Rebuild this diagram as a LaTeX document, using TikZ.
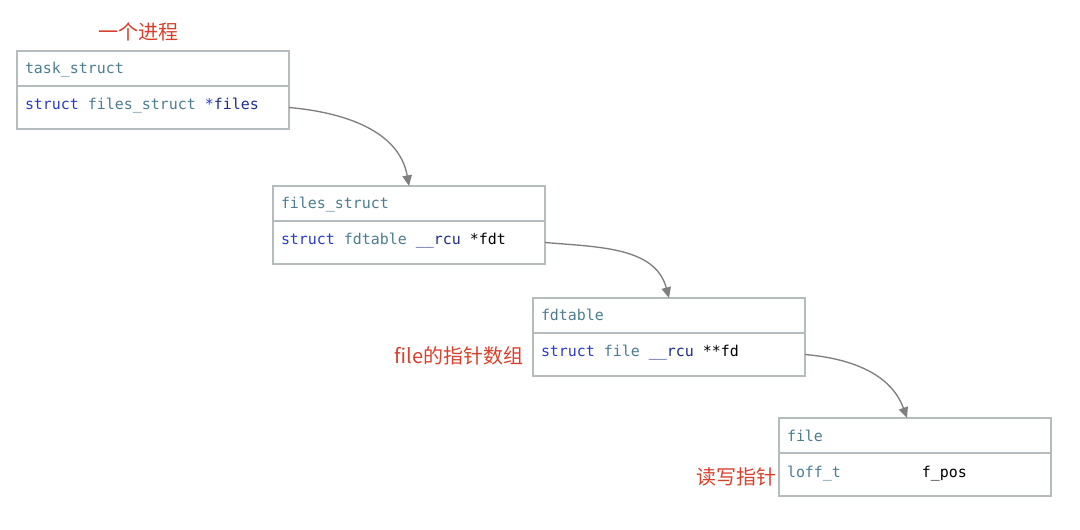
\documentclass[tikz,border=0pt]{standalone}
\usepackage{fontspec}
\setmonofont{DejaVu Sans Mono}
\newfontfamily\cjk{Noto Sans CJK SC}
\usetikzlibrary{positioning,arrows.meta}

\definecolor{boxgray}{HTML}{B5BCBE}
\definecolor{arrowgray}{HTML}{7F7F7F}
\definecolor{kwblue}{HTML}{2A3BC9}
\definecolor{typeteal}{HTML}{4C7D8E}
\definecolor{fieldnavy}{HTML}{1F2D86}
\definecolor{notered}{HTML}{D8402B}

\newcommand{\kw}[1]{\textcolor{kwblue}{#1}}
\newcommand{\ty}[1]{\textcolor{typeteal}{#1}}
\newcommand{\fld}[1]{\textcolor{fieldnavy}{#1}}
% one monospaced blank
\newcommand{\blank}{\hphantom{x}}

\tikzset{
	structhead/.style={draw=boxgray, line width=1.5pt, anchor=north west, outer sep=0pt,
		inner xsep=6pt, inner ysep=0pt, text width=192pt, align=left,
		text height=17.25pt, text depth=9pt, text=typeteal,
		font=\ttfamily\fontsize{11.2}{13}\selectfont},
	structbody/.style={structhead, text height=18pt, text depth=14.25pt, text=black},
	link/.style={draw=arrowgray, line width=1pt, -{Triangle[length=8pt,width=7pt]}},
	note/.style={text=notered, font=\cjk\fontsize{15}{18}\selectfont}
}

\begin{document}
\begin{tikzpicture}[x=0.75pt, y=-0.75pt]
	\useasboundingbox (0,0) rectangle (1080,530);
	% process
	\node[note] (procnote) at (138,32) {一个进程};
	\node[structhead] (taskhead) at (17,51) {task\_struct};
	\node[structbody, below=0pt of taskhead] (taskbody) {\kw{struct}\blank\ty{files\_struct}\blank\fld{\kw{*}files}};
	% files
	\node[structhead] (fileshead) at (273,186) {files\_struct};
	\node[structbody, below=0pt of fileshead] (filesbody) {\kw{struct}\blank\ty{fdtable}\blank\fld{\_\_rcu}\blank*fdt};
	% fd table
	\node[structhead] (fdthead) at (533,298) {fdtable};
	\node[structbody, below=0pt of fdthead] (fdtbody) {\kw{struct}\blank\ty{file}\blank\fld{\_\_rcu}\blank**fd};
	\node[note, anchor=east] (fdnote) at (528,356) {file的指针数组};
	% file
	\node[structhead] (filehead) at (779,418) {file};
	\node[structbody, below=0pt of filehead] (filebody) {\ty{loff\_t}\hphantom{xxxxxxxxx}f\_pos};
	\node[note, anchor=west] (posnote) at (692,477) {读写指针};
	\draw[link] (taskbody.east) to[out=-5, in=100] (fileshead.north);
	\draw[link] (filesbody.east) to[out=-5, in=105] (fdthead.north);
	\draw[link] (fdtbody.east) to[out=-5, in=110] ([xshift=-6pt]filehead.north);
\end{tikzpicture}
\end{document}
